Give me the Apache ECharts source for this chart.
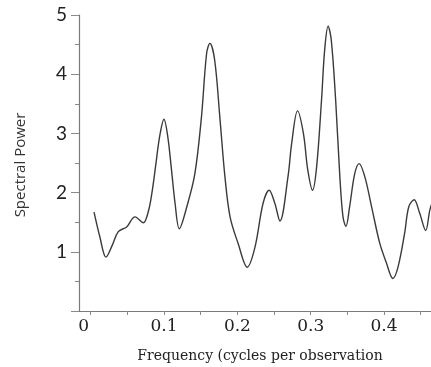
<!DOCTYPE html>
<html>
<head>
<meta charset="utf-8">
<script src="https://cdn.jsdelivr.net/npm/echarts@6/dist/echarts.min.js"></script>
<style>
html,body{margin:0;padding:0;background:#fff;}
#c{width:431px;height:367px;}
</style>
</head>
<body>
<div id="c"></div>
<script>
var freq = [0.0045, 0.0125, 0.0208, 0.029, 0.0376, 0.049, 0.0604, 0.0717, 0.0785, 0.0835, 0.0885, 0.094, 0.0999, 0.105, 0.110, 0.115, 0.1208, 0.131, 0.142, 0.151, 0.158, 0.1625, 0.169, 0.176, 0.183, 0.190, 0.201, 0.2134, 0.224, 0.235, 0.2433, 0.251, 0.258, 0.269, 0.274, 0.282, 0.290, 0.296, 0.3025, 0.308, 0.3147, 0.319, 0.3237, 0.328, 0.334, 0.3397, 0.344, 0.348, 0.353, 0.360, 0.366, 0.3737, 0.383, 0.394, 0.403, 0.412, 0.419, 0.428, 0.4337, 0.441, 0.4486, 0.4568, 0.4623, 0.466];
var power = [1.67, 1.25, 0.91, 1.10, 1.34, 1.42, 1.59, 1.49, 1.68, 2.00, 2.45, 2.95, 3.24, 2.95, 2.40, 1.82, 1.39, 1.76, 2.32, 3.28, 4.35, 4.52, 4.24, 3.28, 2.27, 1.59, 1.14, 0.74, 1.08, 1.82, 2.04, 1.82, 1.52, 2.27, 2.83, 3.38, 3.0, 2.38, 2.04, 2.43, 3.56, 4.41, 4.81, 4.58, 3.56, 2.27, 1.59, 1.43, 1.76, 2.32, 2.49, 2.27, 1.76, 1.15, 0.82, 0.55, 0.74, 1.31, 1.76, 1.88, 1.65, 1.36, 1.70, 1.85];
var xTickValues = [0, 0.05, 0.1, 0.15, 0.2, 0.25, 0.3, 0.35, 0.4, 0.45];
var xLabelValues = [0, 0.1, 0.2, 0.3, 0.4];
var yTitle = 'Spectral Power';
var xTitle = 'Frequency (cycles per observation';

var data = freq.map(function (f, i) { return [f, power[i]]; });
var chart = echarts.init(document.getElementById('c'), null, {renderer: 'canvas'});
chart.setOption({
  animation: false,
  backgroundColor: '#fff',
  grid: {left: 79, right: 0, top: 15, bottom: 56, outerBoundsMode: 'none', containLabel: false},
  xAxis: {
    type: 'value', min: -0.016, max: 0.464,
    splitLine: {show: false},
    axisLine: {show: true, onZero: false, lineStyle: {color: '#7a7a7a', width: 1.2}},
    axisTick: {show: true, customValues: xTickValues, length: 4, lineStyle: {color: '#8a8a8a'}},
    axisLabel: {
      customValues: xLabelValues, margin: 7,
      fontFamily: 'DejaVu Serif', fontSize: 17, color: '#222',
      formatter: function (v) { return v === 0 ? '{z|0}' : v.toFixed(1); },
      rich: {z: {fontFamily: 'DejaVu Serif', fontSize: 17, color: '#222', padding: [0, 14, 0, 0]}}
    }
  },
  yAxis: {
    type: 'value', min: 0, max: 5, interval: 1,
    splitLine: {show: false},
    axisLine: {show: true, onZero: false, lineStyle: {color: '#7a7a7a', width: 1.2}},
    axisTick: {show: true, length: 8, lineStyle: {color: '#8a8a8a'}},
    minorTick: {show: true, splitNumber: 2, length: 4, lineStyle: {color: '#8a8a8a'}},
    axisLabel: {
      margin: 12, fontFamily: 'Lato', fontSize: 19, color: '#222',
      formatter: function (v) { return v === 0 ? '' : String(v); }
    }
  },
  graphic: [
    {type: 'text', x: 21, y: 165, rotation: Math.PI / 2, style: {text: yTitle, font: '15px "Open Sans"', fill: '#333', align: 'center', verticalAlign: 'middle'}},
    {type: 'text', x: 260, y: 356, style: {text: xTitle, font: '14px "DejaVu Serif"', fill: '#222', align: 'center', verticalAlign: 'middle'}}
  ],
  series: [{
    type: 'line', data: data, smooth: 0.35, showSymbol: false, symbol: 'none',
    lineStyle: {color: '#3a3a3a', width: 1.4}, clip: true
  }]
});
</script>
</body>
</html>
